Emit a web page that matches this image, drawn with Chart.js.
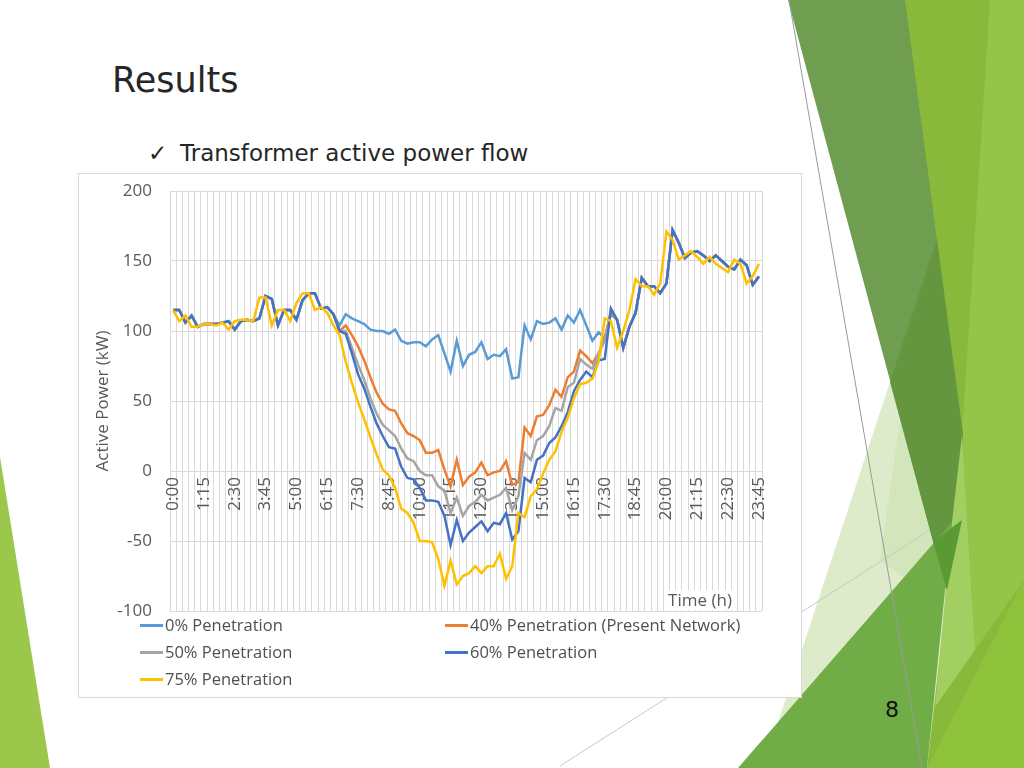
<!DOCTYPE html>
<html>
<head>
<meta charset="utf-8">
<script src="https://cdn.jsdelivr.net/npm/chart.js@4.4.0/dist/chart.umd.min.js"></script>
<style>
  html, body { margin:0; padding:0; }
  body { width:1024px; height:768px; position:relative; overflow:hidden; background:#fff; font-family:'Open Sans', sans-serif; }
  #deco { position:absolute; left:0; top:0; }
  #title { position:absolute; left:112px; top:60px; font-family:'DejaVu Sans'; font-size:35px; line-height:40px; color:#262626; }
  #sub { position:absolute; left:148px; top:139px; font-family:'DejaVu Sans'; font-size:23px; line-height:28px; color:#262626; white-space:nowrap; }
  #sub .chk { display:inline-block; width:32px; }
  #page { position:absolute; left:885px; top:696px; font-family:'DejaVu Sans'; font-size:22px; line-height:28px; color:#111; }
  #box { position:absolute; left:78px; top:173px; width:724px; height:525px; box-sizing:border-box; border:1px solid #D9D9D9; background:#fff; }
  #c { position:absolute; left:78px; top:173px; }
  .lg { position:absolute; font-size:16.5px; line-height:20px; color:#505050; white-space:nowrap; }
  .lg span { display:inline-block; width:23px; height:3px; vertical-align:middle; margin-right:2px; position:relative; top:-1px; }
</style>
</head>
<body>
<svg id="deco" width="1024" height="768" viewBox="0 0 1024 768">
  <polygon points="0,457 50,768 0,768" fill="#9BC74A"/>
  <polygon points="905,0 1024,0 1024,768 927,768" fill="#89B93B"/>
  <polygon points="990,0 1024,0 1024,580 975,650 962,435" fill="#94C549"/>
  <polygon points="890,382 947,593 927,768 763,768" fill="#DDEBCA"/>
  <polygon points="900,420 952,522 935,600 880,560" fill="#CFE3B3" opacity="0.7"/>
  <polygon points="788,0 905,0 963,435 947,593" fill="#6F9E51"/>
  <polygon points="937,240 963,435 947,593 890,382" fill="#64963F"/>
  <polygon points="962,435 975,650 935,707 952,522" fill="#A2CE62"/>
  <polygon points="738,768 952,522 927,768" fill="#70AD47"/>
  <polygon points="933,542 962,520 947,590" fill="#5A9A34"/>
  <polygon points="927,768 1024,580 1024,768" fill="#8EC23A"/>
  <line x1="789" y1="0" x2="922" y2="768" stroke="#9A9A9A" stroke-width="1"/>
  <line x1="560" y1="766" x2="930" y2="530" stroke="#C8C8C8" stroke-width="1"/>
</svg>
<div id="title">Results</div>
<div id="sub"><span class="chk">✓</span>Transformer active power flow</div>
<div id="page">8</div>
<div id="box"></div>
<canvas id="c" width="723" height="524"></canvas>

<div class="lg" style="left:140px;top:615px;"><span style="background:#5B9BD5"></span>0% Penetration</div>
<div class="lg" style="left:445px;top:615px;"><span style="background:#ED7D31"></span>40% Penetration (Present Network)</div>
<div class="lg" style="left:140px;top:642px;"><span style="background:#A5A5A5"></span>50% Penetration</div>
<div class="lg" style="left:445px;top:642px;"><span style="background:#4472C4"></span>60% Penetration</div>
<div class="lg" style="left:140px;top:669px;"><span style="background:#FFC000"></span>75% Penetration</div>

<script>
const times = ["0:00","0:15","0:30","0:45","1:00","1:15","1:30","1:45","2:00","2:15","2:30","2:45","3:00","3:15","3:30","3:45","4:00","4:15","4:30","4:45","5:00","5:15","5:30","5:45","6:00","6:15","6:30","6:45","7:00","7:15","7:30","7:45","8:00","8:15","8:30","8:45","9:00","9:15","9:30","9:45","10:00","10:15","10:30","10:45","11:00","11:15","11:30","11:45","12:00","12:15","12:30","12:45","13:00","13:15","13:30","13:45","14:00","14:15","14:30","14:45","15:00","15:15","15:30","15:45","16:00","16:15","16:30","16:45","17:00","17:15","17:30","17:45","18:00","18:15","18:30","18:45","19:00","19:15","19:30","19:45","20:00","20:15","20:30","20:45","21:00","21:15","21:30","21:45","22:00","22:15","22:30","22:45","23:00","23:15","23:30","23:45"];

const pen0 = [115,115,106,111,103,105,105,105,106,107,
  101,107,108,107,109,125,123,104,115,115,
  108,122,127,127,116,117,112,104,112,109,
  107,105,101,100,100,98,101,93,91,92,
  92,89,94,97,84,71,93,75,83,85,
  92,80,83,82,87,66,67,104,94,107,
  105,106,109,101,111,106,115,104,93,99,
  95,112,108,88,103,113,138,132,132,127,
  134,172,163,152,156,157,154,150,154,150,
  146,144,151,147,133,139];

const pen40 = [115,115,106,111,103,105,105,105,106,107,
  101,107,108,107,109,125,123,104,115,115,
  108,122,127,127,116,117,112,100,104,97,
  89,79,67,56,48,44,43,34,27,25,
  22,13,13,15,1,-11,8,-10,-4,-1,
  6,-3,-1,0,7,-10,-8,31,25,39,
  40,47,58,53,67,71,86,82,77,84,
  95,113,108,88,103,113,138,132,132,127,
  134,172,163,152,156,157,154,150,154,150,
  146,144,151,147,133,139];

const pen50 = [115,115,106,111,103,105,105,105,106,107,
  101,107,108,107,109,125,123,104,115,115,
  108,122,127,127,116,117,112,100,100,88,
  76,65,52,41,33,29,25,16,9,7,
  0,-3,-3,-11,-14,-30,-19,-32,-25,-22,
  -17,-21,-19,-17,-12,-28,-18,13,8,22,
  25,32,45,43,60,63,80,76,73,84,
  93,115,108,88,103,113,138,132,132,127,
  134,172,163,152,156,157,154,150,154,150,
  146,144,151,147,133,139];

const pen60 = [115,115,106,111,103,105,105,105,106,107,
  101,107,108,107,109,125,123,104,115,115,
  108,122,127,127,116,117,112,100,98,84,
  69,59,46,34,25,17,16,3,-5,-6,
  -12,-21,-21,-22,-32,-53,-35,-50,-44,-40,
  -36,-43,-37,-38,-30,-49,-43,-5,-8,8,
  11,20,24,32,42,57,65,71,67,79,
  80,116,108,88,103,113,138,132,132,127,
  134,172,163,152,156,157,154,150,154,150,
  146,144,151,147,133,139];

const pen75 = [115,107,111,103,103,105,105,104,106,101,
  107,108,108,107,124,124,104,115,115,107,
  120,127,127,115,117,113,104,97,78,63,
  49,37,24,12,1,-3,-12,-27,-30,-37,
  -50,-50,-51,-63,-82,-64,-81,-75,-73,-68,
  -73,-68,-68,-59,-77,-68,-30,-33,-18,-13,
  -2,8,14,28,38,52,62,63,66,78,
  109,107,88,100,115,137,132,132,126,134,
  171,165,151,154,157,153,148,153,148,145,
  142,151,148,134,139,148];

const seriesNames = ["0% Penetration","40% Penetration (Present Network)","50% Penetration","60% Penetration","75% Penetration"];
const seriesColors = ["#5B9BD5","#ED7D31","#A5A5A5","#4472C4","#FFC000"];
const yTicks = [-100,-50,0,50,100,150,200];
const xLabelEvery = 5;

Chart.defaults.font.family = "'Open Sans', sans-serif";
Chart.defaults.color = "#595959";

const allSeries = [pen0, pen40, pen50, pen60, pen75];
const datasets = allSeries.map((d, k) => ({
  label: seriesNames[k],
  data: d,
  borderColor: seriesColors[k],
  backgroundColor: seriesColors[k],
  borderWidth: 2.5,
  pointRadius: 0,
  tension: 0,
  fill: false,
  order: 5 - k
}));

const timeTitle = {
  id: 'timeTitle',
  afterDraw(chart) {
    const {ctx, chartArea} = chart;
    ctx.save();
    const cx = chartArea.right - 62, cy = chartArea.bottom - 10;
    ctx.font = "17px 'Open Sans'";
    const w = ctx.measureText('Time (h)').width;
    ctx.fillStyle = '#fff';
    ctx.fillRect(cx - w/2 - 3, cy - 11, w + 6, 20);
    ctx.fillStyle = '#595959';
    ctx.textAlign = 'center';
    ctx.textBaseline = 'middle';
    ctx.fillText('Time (h)', cx, cy);
    ctx.restore();
  }
};

new Chart(document.getElementById('c'), {
  type: 'line',
  data: { labels: times, datasets },
  plugins: [timeTitle],
  options: {
    responsive: false,
    animation: false,
    layout: { padding: { left: 0, top: 18, right: 39, bottom: 86 } },
    plugins: { legend: { display: false }, tooltip: { enabled: false } },
    scales: {
      x: {
        type: 'category',
        position: { y: 0 },
        offset: true,
        grid: { offset: true, color: '#D9D9D9', lineWidth: 1, drawTicks: false },
        border: { display: true, color: '#D9D9D9' },
        ticks: {
          autoSkip: false,
          maxRotation: 90, minRotation: 90,
          padding: 6,
          font: { size: 17 },
          color: '#595959',
          callback: function(v, i) { return i % xLabelEvery === 0 ? times[i] : ''; }
        },
        afterFit: s => { s.height = 0; }
      },
      y: {
        min: -100, max: 200,
        afterBuildTicks: s => { s.ticks = yTicks.map(v => ({ value: v })); },
        grid: { color: '#D9D9D9', lineWidth: 1, drawTicks: false },
        border: { display: false },
        ticks: { padding: 18, font: { size: 17 }, color: '#595959' },
        title: { display: true, text: 'Active Power (kW)', font: { size: 17 }, color: '#595959', padding: { top: 15, bottom: 0 } },
        afterFit: s => { s.width = 92; s.paddingTop = 0; s.paddingBottom = 0; }
      }
    }
  }
});
</script>
</body>
</html>
